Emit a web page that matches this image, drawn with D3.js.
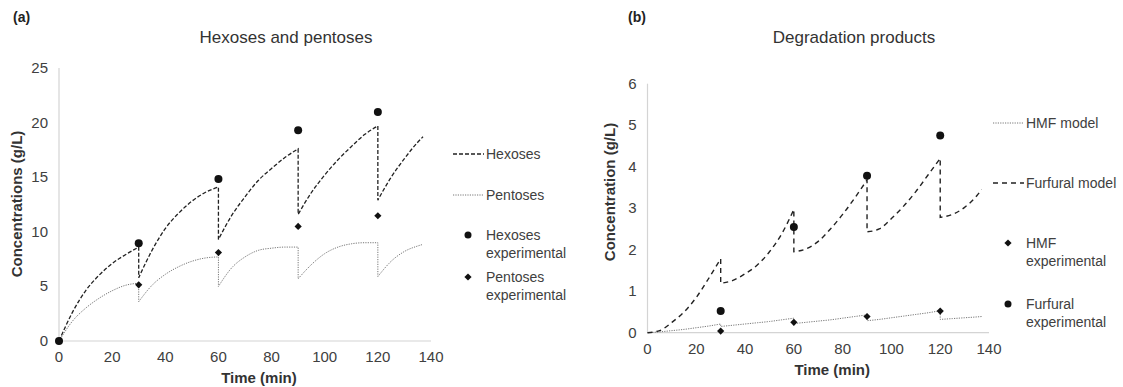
<!DOCTYPE html>
<html>
<head>
<meta charset="utf-8">
<script src="https://cdn.jsdelivr.net/npm/d3@7"></script>
<style>
  html, body { margin: 0; padding: 0; background: #fff; }
  svg { display: block; font-family: "Liberation Sans", Arial, sans-serif; }
</style>
</head>
<body>
<svg id="chart" width="1123" height="387"></svg>
<script>
// sampling times (duplicate time = feed step, the curve drops vertically)
const modelTime = [0, 5, 10, 15, 20, 25, 30, 30, 35, 40, 45, 50, 55, 60, 60, 65, 70, 75, 80, 85, 90,
  90, 95, 100, 105, 110, 115, 120, 120, 125, 130, 135, 137];
const expTimeA = [0, 30, 60, 90, 120];
const expTimeB = [30, 60, 90, 120];

// (a) hexoses and pentoses
const hexModel = [0, 2.6, 4.6, 6.0, 7.1, 7.9, 8.6, 5.8, 8.3, 10.3, 11.7, 12.8, 13.6, 14.1, 9.3, 11.5, 13.2, 14.7, 15.8, 16.8, 17.6,
  11.6, 13.6, 15.2, 16.6, 17.8, 18.9, 19.7, 12.9, 15.0, 16.7, 18.2, 18.7];
const pentModel = [0, 1.8, 3.0, 3.9, 4.6, 5.1, 5.3, 3.6, 5.1, 6.1, 6.8, 7.3, 7.6, 7.7, 5.0, 6.7, 7.7, 8.3, 8.5, 8.6, 8.6,
  5.7, 7.0, 8.0, 8.6, 8.9, 9.0, 9.0, 5.9, 7.3, 8.2, 8.7, 8.85];
const hexExp = [0, 8.96, 14.83, 19.3, 20.98];
const pentExp = [0, 5.14, 8.1, 10.49, 11.47];

// (b) degradation products
const furfModel = [0, 0.05, 0.25, 0.5, 0.85, 1.3, 1.78, 1.19, 1.26, 1.42, 1.63, 1.95, 2.38, 2.97, 1.95, 2.02, 2.2, 2.5, 2.85, 3.25, 3.68,
  2.43, 2.5, 2.75, 3.05, 3.4, 3.8, 4.2, 2.78, 2.85, 3.02, 3.3, 3.45];
const hmfModel = [0, 0.02, 0.05, 0.08, 0.12, 0.16, 0.21, 0.15, 0.18, 0.21, 0.24, 0.27, 0.31, 0.35, 0.22, 0.25, 0.28, 0.31, 0.35, 0.39, 0.43,
  0.29, 0.32, 0.36, 0.40, 0.44, 0.48, 0.53, 0.32, 0.34, 0.36, 0.38, 0.39];
const hmfExp = [0.04, 0.25, 0.39, 0.52];
const furfExp = [0.52, 2.55, 3.78, 4.75];

const xTicks = [0, 20, 40, 60, 80, 100, 120, 140];
const yTicksA = [0, 5, 10, 15, 20, 25];
const yTicksB = [0, 1, 2, 3, 4, 5, 6];

const svg = d3.select("#chart");
const diamond = d3.symbol().type(d3.symbolSquare).size(26);

// path through each feeding segment, joined by vertical drops
function stepCurve(x, y, vals) {
  const pts = modelTime.map((t, i) => [t, vals[i]]);
  const segs = [];
  let cur = [];
  pts.forEach((p, i) => {
    if (i > 0 && p[0] === pts[i - 1][0]) { segs.push(cur); cur = []; }
    cur.push(p);
  });
  segs.push(cur);
  const line = d3.line().x(d => x(d[0])).y(d => y(d[1])).curve(d3.curveMonotoneX);
  return segs.map((s, i) => i === 0 ? line(s) : "L" + line(s).slice(1)).join("");
}

function marker(g, shape, cx, cy, r) {
  if (shape === "circle") {
    g.append("circle").attr("cx", cx).attr("cy", cy).attr("r", r).attr("fill", "#111");
  } else {
    g.append("path").attr("d", diamond).attr("transform", `translate(${cx},${cy}) rotate(45)`).attr("fill", "#111");
  }
}

function panel(cfg) {
  const g = svg.append("g");
  const x = d3.scaleLinear().domain([0, 140]).range([cfg.x0, cfg.x1]);
  const y = d3.scaleLinear().domain([0, cfg.yMax]).range([cfg.y0, cfg.y1]);

  g.append("line").attr("x1", cfg.x0).attr("x2", cfg.x0).attr("y1", cfg.y0).attr("y2", cfg.y1)
    .attr("stroke", "#d4d4d4").attr("stroke-width", 1.2);
  g.append("line").attr("x1", cfg.x0).attr("x2", cfg.x1).attr("y1", cfg.y0).attr("y2", cfg.y0)
    .attr("stroke", "#d4d4d4").attr("stroke-width", 1.2);

  g.selectAll(".xt").data(xTicks).enter().append("text")
    .attr("x", d => x(d)).attr("y", cfg.y0 + 21)
    .attr("text-anchor", "middle").style("font-size", "15px").attr("fill", "#404040")
    .text(d => d);
  g.selectAll(".yt").data(cfg.yTicks).enter().append("text")
    .attr("x", cfg.x0 - 11).attr("y", d => y(d) + 5)
    .attr("text-anchor", "end").style("font-size", "15px").attr("fill", "#404040")
    .text(d => d);

  g.append("text").attr("x", (cfg.x0 + cfg.x1) / 2 + 14).attr("y", cfg.y0 + 42)
    .attr("text-anchor", "middle").style("font-size", "15px").style("font-weight", "bold").attr("fill", "#333")
    .text("Time (min)");
  g.append("text").attr("transform", `translate(${cfg.yTitleX},${cfg.yTitleY}) rotate(-90)`)
    .attr("text-anchor", "middle").style("font-size", "15px").style("font-weight", "bold").attr("fill", "#333")
    .text(cfg.yTitle);
  g.append("text").attr("x", cfg.titleX).attr("y", 43)
    .attr("text-anchor", "middle").style("font-size", "17px").attr("fill", "#333")
    .text(cfg.title);
  g.append("text").attr("x", cfg.tagX).attr("y", 22)
    .style("font-size", "14px").style("font-weight", "bold").attr("fill", "#222")
    .text(cfg.tag);

  cfg.lines.forEach(l => {
    g.append("path").attr("d", stepCurve(x, y, l.vals))
      .attr("fill", "none").attr("stroke", l.color).attr("stroke-width", l.width)
      .attr("stroke-dasharray", l.dash);
  });
  cfg.points.forEach(p => {
    cfg.expTime.forEach((t, i) => marker(g, p.shape, x(t), y(p.vals[i]), 4));
  });

  // legend
  cfg.legend.forEach(e => {
    if (e.line) {
      g.append("line").attr("x1", cfg.legX).attr("x2", cfg.legX + 31).attr("y1", e.y).attr("y2", e.y)
        .attr("stroke", e.line.color).attr("stroke-width", e.line.width).attr("stroke-dasharray", e.line.dash);
      g.append("text").attr("x", cfg.legX + 33).attr("y", e.y + 5).style("font-size", "14px").attr("fill", "#404040").text(e.text[0]);
    } else {
      marker(g, e.shape, cfg.legX + 15, e.y, 3.5);
      e.text.forEach((t, i) => {
        g.append("text").attr("x", cfg.legX + 33).attr("y", e.y + 5 + i * 18).style("font-size", "14px").attr("fill", "#404040").text(t);
      });
    }
  });
}

const hexStyle = { color: "#222", width: 1.3, dash: "4,2" };
const pentStyle = { color: "#777", width: 1, dash: "1.2,1.2" };
const furfStyle = { color: "#222", width: 1.4, dash: "5,4" };
const hmfStyle = { color: "#777", width: 1, dash: "1.2,1.2" };

panel({
  x0: 59, x1: 431, y0: 341, y1: 68, yMax: 25, yTicks: yTicksA, expTime: expTimeA,
  yTitle: "Concentrations (g/L)", yTitleX: 22, yTitleY: 204,
  title: "Hexoses and pentoses", titleX: 286, tag: "(a)", tagX: 13,
  lines: [{ vals: hexModel, ...hexStyle }, { vals: pentModel, ...pentStyle }],
  points: [{ vals: hexExp, shape: "circle" }, { vals: pentExp, shape: "diamond" }],
  legX: 453,
  legend: [
    { y: 154, text: ["Hexoses"], line: hexStyle },
    { y: 195, text: ["Pentoses"], line: pentStyle },
    { y: 235, text: ["Hexoses", "experimental"], shape: "circle" },
    { y: 277, text: ["Pentoses", "experimental"], shape: "diamond" }
  ]
});

panel({
  x0: 647.5, x1: 989, y0: 332.7, y1: 83.7, yMax: 6, yTicks: yTicksB, expTime: expTimeB,
  yTitle: "Concentration (g/L)", yTitleX: 615, yTitleY: 192,
  title: "Degradation products", titleX: 854, tag: "(b)", tagX: 628,
  lines: [{ vals: hmfModel, ...hmfStyle }, { vals: furfModel, ...furfStyle }],
  points: [{ vals: hmfExp, shape: "diamond" }, { vals: furfExp, shape: "circle" }],
  legX: 993,
  legend: [
    { y: 123, text: ["HMF model"], line: hmfStyle },
    { y: 183, text: ["Furfural model"], line: furfStyle },
    { y: 243, text: ["HMF", "experimental"], shape: "diamond" },
    { y: 304, text: ["Furfural", "experimental"], shape: "circle" }
  ]
});
</script>
</body>
</html>
